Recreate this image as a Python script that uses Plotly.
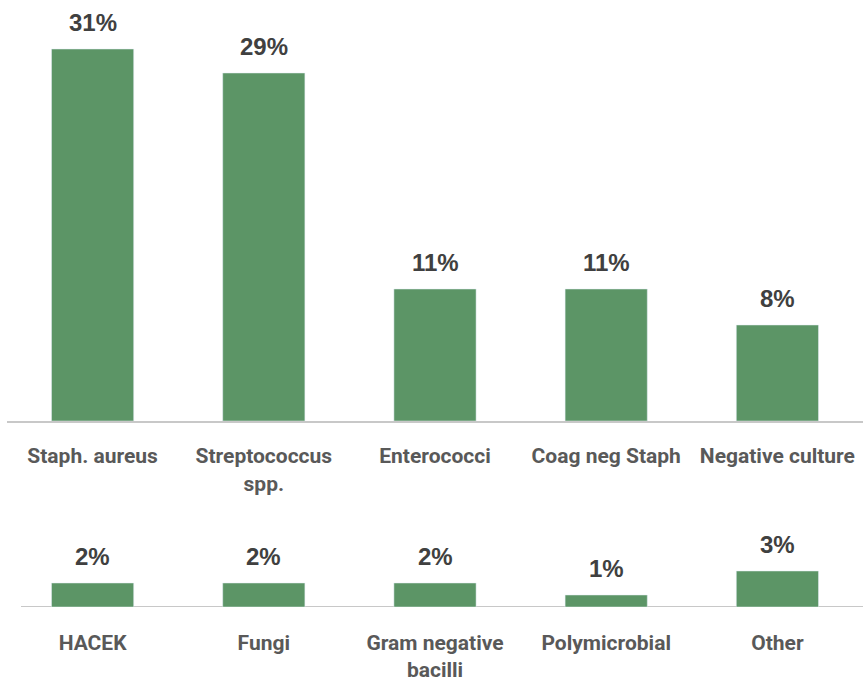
import plotly.graph_objects as go

# Organism groups and their share of cases (%)
top_categories = ["Staph. aureus", "Streptococcus<br>spp.", "Enterococci",
                  "Coag neg Staph", "Negative culture"]
top_values = [31, 29, 11, 11, 8]

bottom_categories = ["HACEK", "Fungi", "Gram negative<br>bacilli",
                     "Polymicrobial", "Other"]
bottom_values = [2, 2, 2, 1, 3]

BAR_COLOR = "#5C9566"
AXIS_COLOR = "#C8C8C8"
LABEL_FONT = dict(family="Liberation Sans, Arial, sans-serif", size=24,
                  color="#404040", weight="bold")
TICK_FONT = dict(family="Roboto, sans-serif", size=21, color="#595959",
                 weight="bold")

W, H = 863, 683
PX_PER_PCT = 12.0  # same vertical scale for both panels

# panel geometry in pixels (from top of the page)
top_base, top_top = 421, 0
bot_base, bot_top = 607, 540


def dom(base, top):
    return [(H - base) / H, (H - top) / H]


fig = go.Figure()
fig.add_trace(go.Bar(x=top_categories, y=top_values, marker_color=BAR_COLOR,
                     xaxis="x", yaxis="y", hoverinfo="skip"))
fig.add_trace(go.Bar(x=bottom_categories, y=bottom_values, marker_color=BAR_COLOR,
                     xaxis="x2", yaxis="y2", hoverinfo="skip"))

annotations = []
for cats, vals, xr, yr in [(top_categories, top_values, "x", "y"),
                           (bottom_categories, bottom_values, "x2", "y2")]:
    for c, v in zip(cats, vals):
        annotations.append(dict(x=c, y=v, xref=xr, yref=yr, text=f"{v}%",
                                showarrow=False, yanchor="bottom", yshift=11,
                                font=LABEL_FONT))

x_dom = [7 / W, 1.0]
xaxis_common = dict(domain=x_dom, linecolor=AXIS_COLOR, linewidth=2,
                    ticks="", tickfont=TICK_FONT,
                    showgrid=False, zeroline=False, fixedrange=True)

fig.update_layout(
    width=W, height=H,
    margin=dict(l=0, r=0, t=0, b=0),
    paper_bgcolor="white", plot_bgcolor="white",
    showlegend=False,
    bargap=0.52,
    xaxis=dict(anchor="y", showline=True, ticklabelstandoff=15, **xaxis_common),
    yaxis=dict(domain=dom(top_base, top_top), range=[0, (top_base - top_top) / PX_PER_PCT],
               visible=False, fixedrange=True),
    xaxis2=dict(anchor="y2", showline=False, ticklabelstandoff=21, **xaxis_common),
    yaxis2=dict(domain=dom(bot_base, bot_top), range=[0, (bot_base - bot_top) / PX_PER_PCT],
                visible=False, fixedrange=True),
    annotations=annotations,
)

# baseline of the lower panel starts a little further in than the upper one
fig.add_shape(type="line", xref="paper", yref="y2", x0=21 / W, x1=1.0, y0=0, y1=0,
              line=dict(color=AXIS_COLOR, width=2), layer="below")

fig.write_html("out.html")
